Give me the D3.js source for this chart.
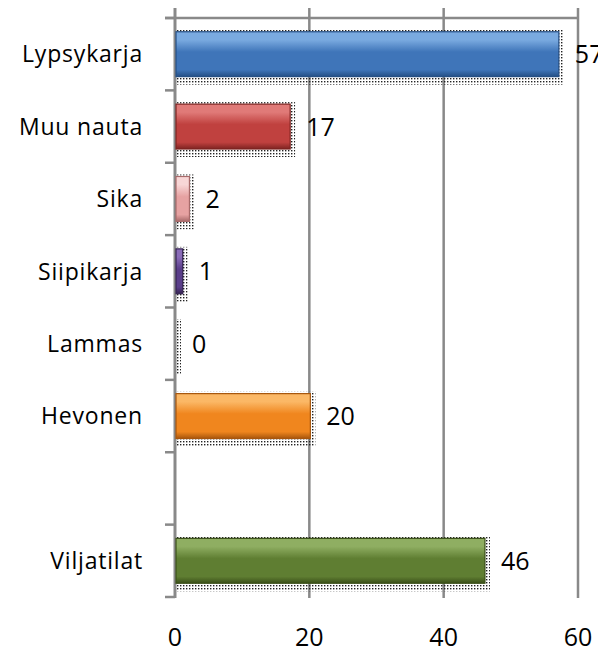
<!DOCTYPE html>
<html>
<head>
<meta charset="utf-8">
<script src="https://cdn.jsdelivr.net/npm/d3@7"></script>
<style>
  body { margin: 0; background: #fff; }
  svg { display: block; }
</style>
</head>
<body>
<div id="chart"></div>
<script>
// Data
const categories = ["Lypsykarja", "Muu nauta", "Sika", "Siipikarja", "Lammas", "Hevonen", " ", "Viljatilat"];
const values = [57, 17, 2, 1, 0, 20, null, 46];
const xTicks = [0, 20, 40, 60];

// colours: [top highlight, base, dark edge]
const barColors = [
  ["#7aaae0", "#3f75b9", "#244f85"],
  ["#e07a78", "#c0413f", "#7e2321"],
  ["#f8d6d6", "#e6a2a2", "#a86a6a"],
  ["#8a6cb8", "#5a3e8a", "#352352"],
  ["#cccccc", "#999999", "#666666"],
  ["#fbb866", "#f0861e", "#a8560c"],
  ["#cccccc", "#999999", "#666666"],
  ["#8fae62", "#5f7e32", "#3b5019"]
];

const width = 598;
const height = 652;

const x = d3.scaleLinear().domain([0, 60]).range([175, 578]);
const y = d3.scaleBand().domain(categories).range([18, 597]).paddingInner(0.38).paddingOuter(0.19);
const band = d3.scaleBand().domain(categories).range([18, 597]);

const svg = d3.select("#chart").append("svg")
  .attr("width", width)
  .attr("height", height)
  .attr("font-family", "'Open Sans', 'Noto Sans', sans-serif");

const defs = svg.append("defs");

defs.append("pattern")
  .attr("id", "dots")
  .attr("width", 3).attr("height", 3)
  .attr("patternUnits", "userSpaceOnUse")
  .append("rect")
  .attr("width", 1.4).attr("height", 1.4)
  .attr("fill", "#222");

barColors.forEach((c, i) => {
  const g = defs.append("linearGradient")
    .attr("id", "grad" + i)
    .attr("x1", 0).attr("y1", 0).attr("x2", 0).attr("y2", 1);
  g.append("stop").attr("offset", 0).attr("stop-color", c[0]);
  g.append("stop").attr("offset", 0.18).attr("stop-color", c[0]);
  g.append("stop").attr("offset", 0.45).attr("stop-color", c[1]);
  g.append("stop").attr("offset", 0.85).attr("stop-color", c[1]);
  g.append("stop").attr("offset", 1).attr("stop-color", c[2]);
});

// Gridlines
svg.append("g")
  .selectAll("line")
  .data(xTicks.slice(1))
  .join("line")
  .attr("x1", d => x(d)).attr("x2", d => x(d))
  .attr("y1", 8).attr("y2", 598)
  .attr("stroke", "#898989")
  .attr("stroke-width", 2.5);

// top axis line
svg.append("line")
  .attr("x1", 165).attr("x2", x(60))
  .attr("y1", 18).attr("y2", 18)
  .attr("stroke", "#898989")
  .attr("stroke-width", 2.5);

// left axis line + category ticks
svg.append("line")
  .attr("x1", x(0)).attr("x2", x(0))
  .attr("y1", 8).attr("y2", 598)
  .attr("stroke", "#898989")
  .attr("stroke-width", 3);

const catTicks = categories.map(c => band(c)).concat([band.range()[1]]);
svg.append("g")
  .selectAll("line")
  .data(catTicks)
  .join("line")
  .attr("x1", 165).attr("x2", x(0))
  .attr("y1", d => d).attr("y2", d => d)
  .attr("stroke", "#898989")
  .attr("stroke-width", 2.5);

// Bars
const rows = categories.map((c, i) => ({ cat: c, value: values[i], i }))
  .filter(d => d.value !== null);

const bars = svg.append("g")
  .selectAll("g")
  .data(rows)
  .join("g");

// dotted shadow
bars.append("rect")
  .attr("x", x(0) + 2)
  .attr("y", d => y(d.cat) - 2)
  .attr("width", d => x(d.value) - x(0) + 4)
  .attr("height", y.bandwidth() + 10)
  .attr("fill", "url(#dots)");

bars.filter(d => d.value > 0).append("rect")
  .attr("x", x(0) + 1)
  .attr("y", d => y(d.cat))
  .attr("width", d => x(d.value) - x(0))
  .attr("height", y.bandwidth())
  .attr("fill", d => `url(#grad${d.i})`)
  .attr("stroke", d => barColors[d.i][2])
  .attr("stroke-width", 1.2);

// value labels
bars.append("text")
  .attr("x", d => x(d.value) + 17)
  .attr("y", d => y(d.cat) + y.bandwidth() / 2)
  .attr("dy", "0.36em")
  .attr("font-size", 25)
  .attr("fill", "#000")
  .text(d => d.value);

// category labels
svg.append("g")
  .selectAll("text")
  .data(categories)
  .join("text")
  .attr("x", 143)
  .attr("y", d => band(d) + band.bandwidth() / 2)
  .attr("dy", "0.36em")
  .attr("text-anchor", "end")
  .attr("font-size", 23)
  .attr("letter-spacing", 0.8)
  .attr("fill", "#000")
  .text(d => d.trim());

// x tick labels
svg.append("g")
  .selectAll("text")
  .data(xTicks)
  .join("text")
  .attr("x", d => x(d))
  .attr("y", 646)
  .attr("text-anchor", "middle")
  .attr("font-size", 25)
  .attr("fill", "#000")
  .text(d => d);
</script>
</body>
</html>
